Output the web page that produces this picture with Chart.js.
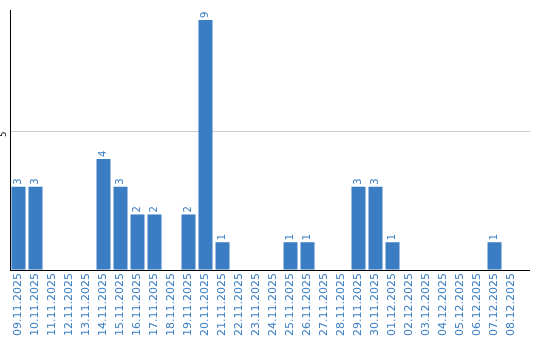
<!DOCTYPE html>
<html>
<head>
<meta charset="utf-8">
<script src="https://cdn.jsdelivr.net/npm/chart.js@4"></script>
<style>
  html, body { margin: 0; padding: 0; background: #fff; }
  #wrap { width: 540px; height: 340px; }
</style>
</head>
<body>
<div id="wrap"><canvas id="chart" width="540" height="340"></canvas></div>
<script>
// --- Data ---
const dates = [
  '09.11.2025', '10.11.2025', '11.11.2025', '12.11.2025', '13.11.2025',
  '14.11.2025', '15.11.2025', '16.11.2025', '17.11.2025', '18.11.2025',
  '19.11.2025', '20.11.2025', '21.11.2025', '22.11.2025', '23.11.2025',
  '24.11.2025', '25.11.2025', '26.11.2025', '27.11.2025', '28.11.2025',
  '29.11.2025', '30.11.2025', '01.12.2025', '02.12.2025', '03.12.2025',
  '04.12.2025', '05.12.2025', '06.12.2025', '07.12.2025', '08.12.2025'
];
const counts = [3, 3, 0, 0, 0, 4, 3, 2, 2, 0, 2, 9, 1, 0, 0, 0, 1, 1, 0, 0, 3, 3, 1, 0, 0, 0, 0, 0, 1, 0];
const yTickShown = [5];

const BLUE = '#3a7dc3';
const FONT = '"DejaVu Sans", Verdana, sans-serif';
const AXIS_TAIL = 10; // axis + gridline run a bit past the last category

// value labels above the bars, rotated like the axis labels
const barLabels = {
  id: 'barLabels',
  afterDatasetsDraw(chart) {
    const ctx = chart.ctx;
    const meta = chart.getDatasetMeta(0);
    ctx.save();
    ctx.fillStyle = BLUE;
    ctx.font = '10px ' + FONT;
    ctx.textAlign = 'left';
    ctx.textBaseline = 'middle';
    meta.data.forEach((bar, i) => {
      const v = counts[i];
      if (!v) return;
      ctx.save();
      ctx.translate(bar.x, bar.y - 2);
      ctx.rotate(-Math.PI / 2);
      ctx.fillText(String(v), 0, 0);
      ctx.restore();
    });
    ctx.restore();
  }
};

// rotated y tick label + axis/grid tails
const yLabels = {
  id: 'yLabels',
  beforeDatasetsDraw(chart) {
    const ctx = chart.ctx;
    const y = chart.scales.y;
    const right = chart.chartArea.right;
    ctx.save();
    ctx.lineWidth = 1;
    ctx.strokeStyle = '#cccccc';
    yTickShown.forEach(v => {
      const py = Math.round(y.getPixelForValue(v)) + 0.5;
      ctx.beginPath();
      ctx.moveTo(right, py);
      ctx.lineTo(right + AXIS_TAIL, py);
      ctx.stroke();
    });
    ctx.restore();
  },
  afterDraw(chart) {
    const ctx = chart.ctx;
    const y = chart.scales.y;
    const right = chart.chartArea.right;
    ctx.save();
    ctx.strokeStyle = '#000';
    ctx.lineWidth = 1;
    const py = Math.round(y.getPixelForValue(0)) + 0.5;
    ctx.beginPath();
    ctx.moveTo(right - 1, py);
    ctx.lineTo(right + AXIS_TAIL, py);
    ctx.stroke();

    ctx.fillStyle = '#000';
    ctx.font = '8px ' + FONT;
    ctx.textAlign = 'center';
    ctx.textBaseline = 'middle';
    yTickShown.forEach(v => {
      ctx.save();
      ctx.translate(4, y.getPixelForValue(v) + 3);
      ctx.rotate(-Math.PI / 2);
      ctx.fillText(String(v), 0, 0);
      ctx.restore();
    });
    ctx.restore();
  }
};

new Chart(document.getElementById('chart'), {
  type: 'bar',
  data: {
    labels: dates,
    datasets: [{
      data: counts,
      backgroundColor: BLUE,
      borderWidth: 0,
      barPercentage: 14 / 17,
      categoryPercentage: 1
    }]
  },
  options: {
    responsive: false,
    animation: false,
    layout: { padding: { left: 10, right: 20, top: 10, bottom: 0 } },
    plugins: { legend: { display: false }, tooltip: { enabled: false } },
    scales: {
      x: {
        grid: { display: false, drawTicks: false },
        border: { color: '#000', width: 1 },
        ticks: {
          color: BLUE,
          font: { family: FONT, size: 11 },
          minRotation: 90,
          maxRotation: 90,
          autoSkip: false,
          padding: 3
        },
        afterFit(scale) { scale.height = 70; }
      },
      y: {
        min: 0,
        max: 9.36,
        ticks: { display: false, stepSize: 5 },
        grid: {
          drawTicks: false,
          color: c => (c.tick && c.tick.value === 5 ? '#cccccc' : 'rgba(0,0,0,0)')
        },
        border: { color: '#000', width: 1 },
        afterFit(scale) { scale.width = 0; }
      }
    }
  },
  plugins: [barLabels, yLabels]
});
</script>
</body>
</html>
